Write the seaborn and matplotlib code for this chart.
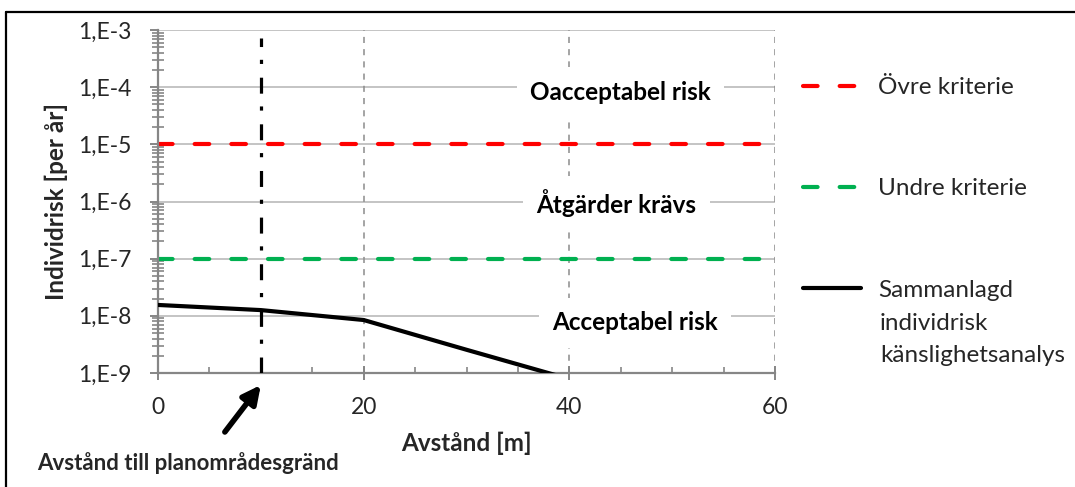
import matplotlib
matplotlib.use("Agg")
import matplotlib.pyplot as plt
import matplotlib.ticker as mticker
from matplotlib.lines import Line2D
import seaborn as sns
import numpy as np

# Data
distance = [0, 10, 20, 30, 40]
risk_total = [1.55e-8, 1.26e-8, 8.45e-9, 2.55e-9, 7.85e-10]
crit_x = [0, 60]
upper_crit = [1e-5, 1e-5]
lower_crit = [1e-7, 1e-7]
plan_border = 10
y_ticks = [1e-9, 1e-8, 1e-7, 1e-6, 1e-5, 1e-4, 1e-3]
x_ticks = [0, 20, 40, 60]
zone_labels = ["Oacceptabel risk", "Åtgärder krävs", "Acceptabel risk"]
zone_pos = [(45.0, 8.2e-5), (44.6, 9.3e-7), (46.4, 7.5e-9)]
legend_labels = ["Övre kriterie", "Undre kriterie", "Sammanlagd"]
legend_extra = ["individrisk", "känslighetsanalys"]

sns.set_theme(style="white")
plt.rcParams["font.family"] = ["Lato", "DejaVu Sans"]

W, H = 1075, 487
fig = plt.figure(figsize=(W / 100, H / 100), dpi=100)
ax = fig.add_axes([158 / W, 1 - 373 / H, (775 - 158) / W, (373 - 30) / H])

sns.lineplot(x=crit_x, y=upper_crit, ax=ax, color="#ff0000", lw=3,
             label=legend_labels[0], dashes=False)
sns.lineplot(x=crit_x, y=lower_crit, ax=ax, color="#00b050", lw=3,
             label=legend_labels[1], dashes=False)
sns.lineplot(x=distance, y=risk_total, ax=ax, color="black", lw=3,
             label=legend_labels[2], dashes=False)
for ln in ax.lines[:2]:
    ln.set_dashes((3.5, 5.3))
    ln.set_dash_capstyle("round")
ax.lines[2].set_zorder(4)

ax.set_yscale("log")
ax.set_xlim(0, 60)
ax.set_ylim(1e-9, 1e-3)
ax.set_yticks(y_ticks)
ax.yaxis.set_major_formatter(mticker.FuncFormatter(lambda v, p: f"1,E{int(round(np.log10(v)))}"))
ax.yaxis.set_minor_locator(mticker.LogLocator(base=10, subs=np.arange(2, 10), numticks=20))
ax.yaxis.set_minor_formatter(mticker.NullFormatter())
ax.set_xticks(x_ticks)
ax.xaxis.set_minor_locator(mticker.MultipleLocator(5))

spine_col = "#868686"
for s in ["top", "right"]:
    ax.spines[s].set_visible(False)
for s in ["left", "bottom"]:
    ax.spines[s].set_color(spine_col)
    ax.spines[s].set_linewidth(1.6)

ax.tick_params(axis="y", which="major", direction="out", length=6, width=1.4,
               color=spine_col, labelsize=16.5, pad=13, left=True)
ax.tick_params(axis="y", which="minor", direction="inout", length=8, width=1.2,
               color=spine_col, left=True)
ax.tick_params(axis="x", which="major", direction="inout", length=10, width=1.4,
               color=spine_col, labelsize=16.5, pad=12, bottom=True)
ax.tick_params(axis="x", which="minor", direction="in", length=4.5, width=1.2,
               color=spine_col, bottom=True)

ax.grid(False)
for yv in y_ticks:
    ax.axhline(yv, color="#bfbfbf", lw=1.3, zorder=0.5)
for xv in x_ticks[1:]:
    ax.axvline(xv, color="#8c8c8c", lw=1.1, ls=(0, (4, 4)), zorder=0.5)

ax.axvline(plan_border, ymax=0.977, color="black", lw=2.3,
           dashes=(5, 4.3, 1.3, 4), zorder=3)

for lab, (xx, yy) in zip(zone_labels, zone_pos):
    ax.text(xx, yy, lab, ha="center", va="center", fontsize=17.5, fontweight="bold",
            color="black", zorder=2,
            bbox=dict(boxstyle="square,pad=0.55", facecolor="white", edgecolor="none"))

ax.set_xlabel("Avstånd [m]", fontsize=17.5, fontweight="bold", labelpad=10)
ax.set_ylabel("Individrisk [per år]", fontsize=17.5, fontweight="bold", labelpad=7)

# arrow pointing at the plan border distance
ax.annotate("", xy=(plan_border, -0.035), xycoords=("data", "axes fraction"),
            xytext=(6.5, -0.172), textcoords=("data", "axes fraction"),
            annotation_clip=False,
            arrowprops=dict(arrowstyle="-|>,head_length=0.9,head_width=0.45",
                            lw=4, color="black", shrinkA=0, shrinkB=0))
fig.text(37 / W, 1 - 463 / H, "Avstånd till planområdesgränd", fontsize=16,
         fontweight="bold", ha="left", va="center")

leg = ax.legend(loc="upper left", bbox_to_anchor=(803 / W, 1 - 77 / H),
                bbox_transform=fig.transFigure, frameon=False, fontsize=17.5,
                handlelength=2.4, handletextpad=0.7, labelspacing=3.31,
                borderpad=0, borderaxespad=0)
for t, yy in zip(legend_extra, [323, 355]):
    fig.text(880 / W, 1 - yy / H, t, fontsize=17.5, ha="left", va="center")

# figure frame (top and left edges visible)
fig.add_artist(Line2D([6 / W, 1], [1 - 12 / H, 1 - 12 / H], transform=fig.transFigure,
                      color="black", lw=1.6))
fig.add_artist(Line2D([6 / W, 6 / W], [1 - 12 / H, 0], transform=fig.transFigure,
                      color="black", lw=1.6))

fig.savefig("out.png", dpi=100, facecolor="white")
